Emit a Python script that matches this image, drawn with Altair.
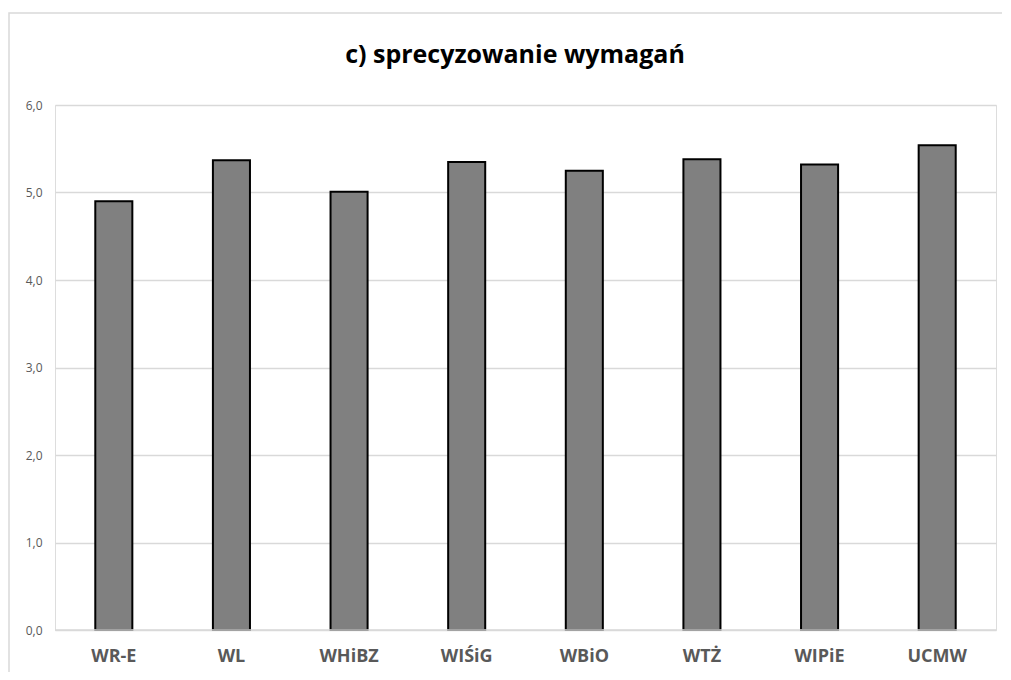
import altair as alt
import pandas as pd

categories = ["WR-E", "WL", "WHiBZ", "WIŚiG", "WBiO", "WTŻ", "WIPiE", "UCMW"]
values = [4.90, 5.37, 5.01, 5.35, 5.25, 5.38, 5.32, 5.54]
y_ticks = [0, 1, 2, 3, 4, 5, 6]
title_text = "c) sprecyzowanie wymagań"

df = pd.DataFrame({"kat": categories, "val": values})
yscale = alt.Scale(domain=[0, 6], nice=False)

x_enc = alt.X(
    "kat:N",
    sort=categories,
    title=None,
    scale=alt.Scale(paddingInner=0.685, paddingOuter=0.3425),
    axis=alt.Axis(
        labelAngle=0,
        labelFont="Open Sans",
        labelFontWeight="bold",
        labelFontSize=18,
        labelColor="#595959",
        labelPadding=17,
        ticks=False,
        domain=False,
        grid=False,
    ),
)

y_enc = alt.Y(
    "val:Q",
    title=None,
    scale=yscale,
    axis=alt.Axis(
        values=y_ticks,
        labelExpr="replace(format(datum.value, '.1f'), '.', ',')",
        labelFont="Open Sans",
        labelFontSize=12,
        labelColor="#595959",
        labelPadding=13,
        ticks=False,
        domain=False,
        grid=True,
        gridColor="#d9d9d9",
        gridWidth=1.5,
    ),
)

bars = alt.Chart(df).mark_bar(
    color="#808080", stroke="#000000", strokeWidth=2
).encode(x=x_enc, y=y_enc)

zero = alt.Chart(pd.DataFrame({"t": [0]})).mark_rule(
    color="#d9d9d9", strokeWidth=1.5
).encode(y=alt.Y("t:Q", scale=yscale))

border = alt.Chart(pd.DataFrame({"a": [0]})).mark_rect(
    fill=None, stroke="#d9d9d9", strokeWidth=1.5
).encode(
    x=alt.value(-46), x2=alt.value(1000), y=alt.value(-92), y2=alt.value(700)
)

title = alt.Chart(pd.DataFrame({"s": [title_text]})).mark_text(
    font="Open Sans", fontWeight="bold", fontSize=25, color="#000000",
    align="center", baseline="alphabetic"
).encode(text="s:N", x=alt.value(460), y=alt.value(-42))

chart = (
    alt.layer(bars, zero, border, title)
    .properties(
        width=941,
        height=525,
        autosize=alt.AutoSizeParams(type="none"),
        padding={"left": 47, "top": 97, "right": 6, "bottom": 42},
    )
    .configure_view(stroke=None)
    .configure(background="#ffffff")
)

chart.save("out.html", embed_options={"renderer": "svg", "actions": False})
